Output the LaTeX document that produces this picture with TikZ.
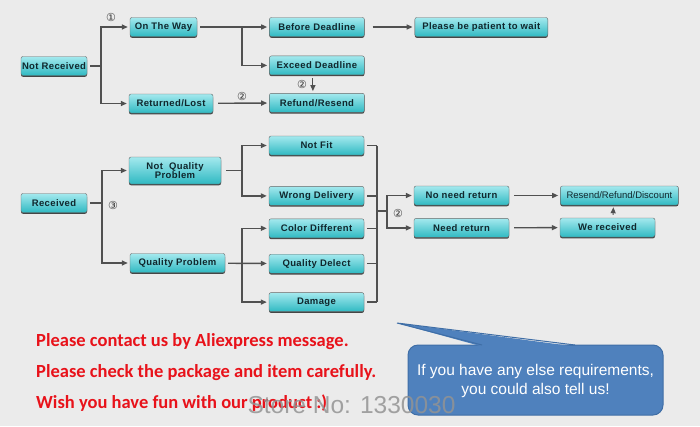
\documentclass[tikz,border=0pt]{standalone}
\usepackage{fontspec}
\setmainfont{Liberation Sans}
\newfontfamily\boxfont[LetterSpace=4]{Liberation Sans}
\newfontfamily\tightfont{Liberation Sans}
\newfontfamily\notefont{Carlito}
\newfontfamily\circfont{DejaVu Sans}
\usepackage{tikz}
\usetikzlibrary{positioning, calc, shadows, arrows.meta}

\definecolor{bgray}{HTML}{EBEBEB}
\definecolor{cyanlt}{HTML}{A4E9EE}
\definecolor{cyanmd}{HTML}{52CFD7}
\definecolor{cyandk}{HTML}{2FB9C2}
\definecolor{boxtxt}{HTML}{10272D}
\definecolor{linegray}{HTML}{505050}
\definecolor{notered}{HTML}{E8121A}
\definecolor{callfill}{HTML}{4F81BD}
\definecolor{calldk}{HTML}{3F6EA6}

\tikzset{
    box/.style={rectangle, rounded corners=2pt, draw=black!60,
        top color=cyanlt, middle color=cyanmd, bottom color=cyandk,
        minimum height=19pt, inner sep=1pt, text=boxtxt,
        font=\boxfont\bfseries\fontsize{9.5}{9.5}\selectfont,
        drop shadow={shadow xshift=0pt, shadow yshift=-1.3pt, fill=black!80, opacity=0.9}},
    link/.style={draw=linegray, line width=1.4pt},
    flow/.style={link, -{Triangle[length=6pt, width=5pt]}, shorten >=2pt},
    num/.style={font=\circfont\fontsize{11}{11}\selectfont, text=black!80},
    note/.style={font=\notefont\bfseries\fontsize{18.5}{20}\selectfont, text=notered, anchor=base west, inner sep=0pt},
}

\begin{document}
\begin{tikzpicture}[x=1pt, y=-1pt]
    \fill[bgray] (0,0) rectangle (700,426);
    \useasboundingbox (0,0) rectangle (700,426);

    % not received
    \node[box, minimum width=66pt] (nr) at (54,66) {Not Received};
    \node[box, minimum width=67pt] (otw) at (163.5,27) {On The Way};
    \node[box, minimum width=84pt] (rl) at (171,103.5) {Returned/Lost};
    \node[box, minimum width=95pt] (bd) [right=72pt of otw] {Before Deadline};
    \node[box, minimum width=95pt] (ed) [below=19pt of bd] {Exceed Deadline};
    \node[box, minimum width=95pt] (rr) [below=18pt of ed] {Refund/Resend};
    \node[box, minimum width=133pt] (pw) [right=50pt of bd] {Please be patient to wait};

    \coordinate (j1) at (101,66);
    \coordinate (j2) at (242,27);
    \draw[link, shorten <=3pt] (nr) -- (j1);
    \draw[flow] (j1) |- (otw);
    \draw[flow] (j1) |- (rl);
    \draw[flow, shorten <=3pt] (otw) -- (bd);
    \draw[flow] (j2) |- (ed);
    \draw[flow, shorten <=8pt] (bd) -- (pw);
    \draw[flow, shorten <=5pt] (rl) -- (rr);
    \draw[flow, line width=1.1pt, shorten <=3pt] ([xshift=-4pt]ed.south) -- ([xshift=-4pt]rr.north);

    \node[num] (c1) at (111,17) {①};
    \node[num] (c2) at (302,84) {②};
    \node[num] (c3) at (242,96) {②};

    % received
    \node[box, minimum width=66pt] (rec) at (54,203) {Received};
    \node[box, minimum width=92pt, minimum height=27pt, align=center] (nqp) at (175,170.5) {Not\ \ Quality\\Problem};
    \node[box, minimum width=95pt] (qp) at (177.5,263) {Quality Problem};
    \node[box, minimum width=95pt] (nf) at (316.5,145.5) {Not Fit};
    \node[box, minimum width=95pt] (wd) [below=31pt of nf] {Wrong Delivery};
    \node[box, minimum width=95pt] (cd) [below=13pt of wd] {Color Different};
    \node[box, minimum width=95pt] (qd) [below=16pt of cd] {Quality Delect};
    \node[box, minimum width=95pt] (dm) [below=19pt of qd] {Damage};
    \node[box, minimum width=95pt] (nnr) at (461.5,195.5) {No need return};
    \node[box, minimum width=95pt] (need) [below=13pt of nnr] {Need return};
    \node[box, minimum width=118pt, font=\tightfont\fontsize{9.5}{9.5}\selectfont] (rrd) [right=51pt of nnr] {Resend/Refund/Discount};
    \node[box, minimum width=95pt] (wer) at (607.5,227.5) {We received};

    \coordinate (j3) at (102,203);
    \coordinate (j4) at (242,170.5);
    \coordinate (j5) at (242,263);
    \coordinate (bx) at (377,211);
    \coordinate (j6) at (387,211);
    \draw[link, shorten <=3pt] (rec) -- (j3);
    \draw[flow] (j3) |- (nqp);
    \draw[flow] (j3) |- (qp);
    \draw[link, shorten <=5pt] (nqp) -- (j4);
    \draw[flow] (j4) |- (nf);
    \draw[flow] (j4) |- (wd);
    \draw[flow, shorten <=3pt] (qp) -- (qd);
    \draw[flow] (j5) |- (cd);
    \draw[flow] (j5) |- (dm);
    \foreach \nm in {nf,wd,cd,qd,dm}
        \draw[link, shorten <=3pt] (\nm.east) -- (\nm.east -| bx);
    \draw[link] (nf.east -| bx) -- (dm.east -| bx);
    \draw[link] (bx) -- (j6);
    \draw[flow] (j6) |- (nnr);
    \draw[flow] (j6) |- (need);
    \draw[flow, shorten <=5pt] (nnr) -- (rrd);
    \draw[flow, shorten <=5pt] (need) -- (wer);
    \draw[flow, line width=1.1pt, shorten <=3pt] ([xshift=5.5pt]wer.north) -- ([xshift=-6pt]rrd.south);

    \node[num] (c4) at (113,205) {③};
    \node[num] (c5) at (398,213) {②};

    % notes
    \node[note] (m1) at (36,346) {Please contact us by Aliexpress message.};
    \node[note] (m2) at (36,377) {Please check the package and item carefully.};
    \node[note] (m3) at (36,408) {Wish you have fun with our product :)};

    % callout
    \draw[fill=callfill, draw=calldk, line width=1pt, rounded corners=10pt] (408,345) rectangle (663,415);
    \fill[callfill] (397,323) -- (482,346.5) -- (575,346.5) -- cycle;
    \draw[calldk, line width=1pt] (482,345) -- (397,323) -- (575,345);
    \node[font=\fontsize{15.5}{19}\selectfont, text=white, align=center] (ask) at (535.5,381) {If you have any else requirements,\\you could also tell us!};

    \node[font=\fontsize{24.5}{24.5}\selectfont, text=gray!85, opacity=0.85] (store) at (351.5,405) {Store No: 1330030};
\end{tikzpicture}
\end{document}
